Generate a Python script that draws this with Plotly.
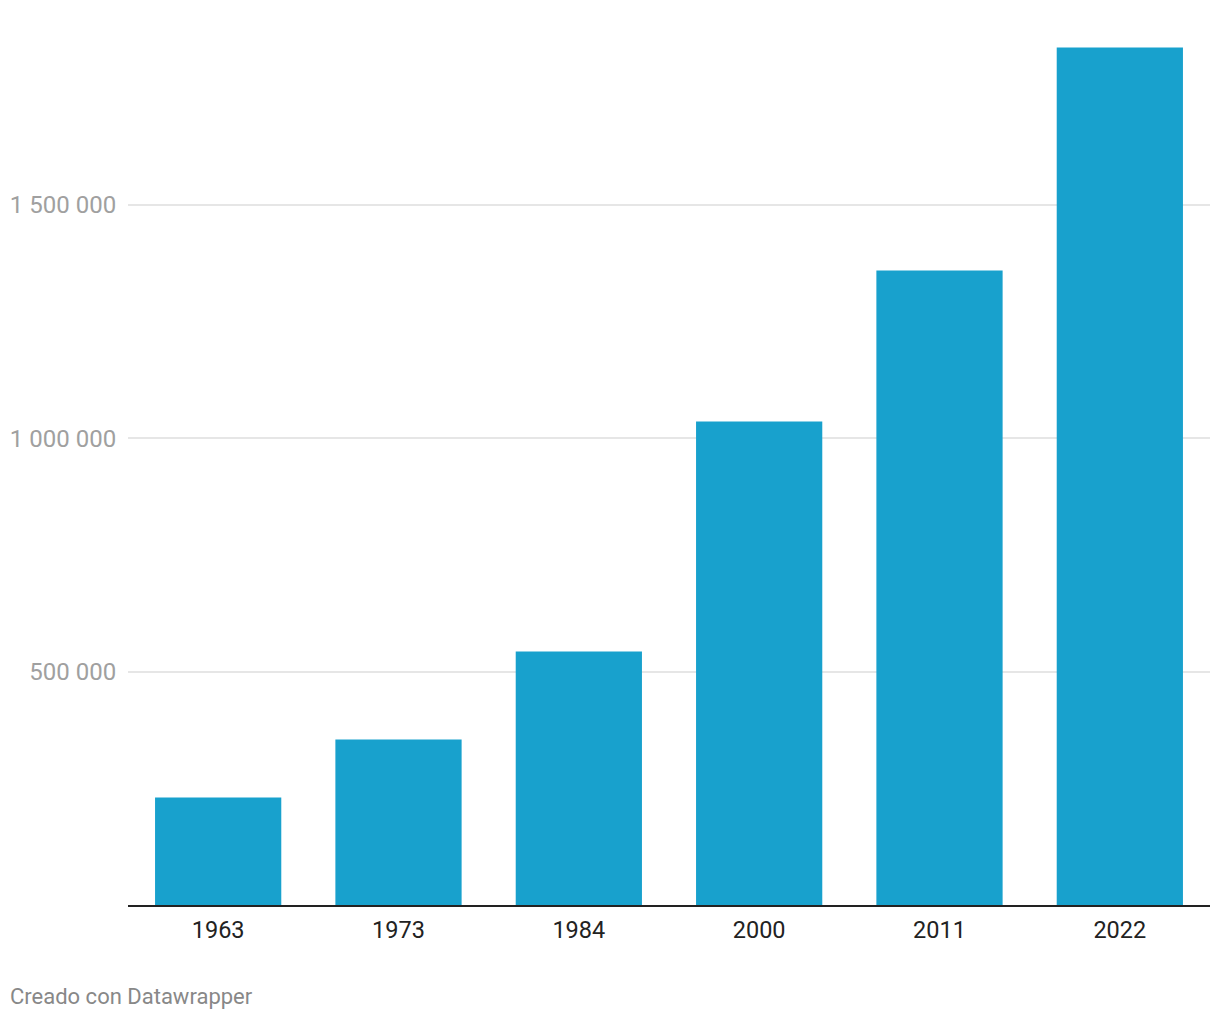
import plotly.graph_objects as go

years = ["1963", "1973", "1984", "2000", "2011", "2022"]
values = [230400, 354600, 543200, 1036000, 1359600, 1837500]
y_tickvals = [500000, 1000000, 1500000]
y_ticktext = ["500 000", "1 000 000", "1 500 000"]

# page has an 8px body margin, so the figure is offset by 8px
W, H = 1212, 1012
L, R, T, B = 120, 10, 12, 115
PW = W - L - R
PH = H - T - B

fig = go.Figure(
    go.Bar(
        x=years,
        y=values,
        marker=dict(color="#18a1cd", line=dict(width=0)),
        hoverinfo="x+y",
    )
)

fig.update_layout(
    width=W,
    height=H,
    margin=dict(l=L, r=R, t=T, b=B),
    paper_bgcolor="white",
    plot_bgcolor="white",
    bargap=0.3,
    showlegend=False,
    font=dict(family="Roboto", size=24, color="#333333"),
)

fig.update_xaxes(
    type="category",
    range=[-0.5, 5.5],
    automargin=False,
    showline=True,
    linecolor="#222222",
    linewidth=2,
    showgrid=False,
    ticks="outside",
    ticklen=3,
    tickcolor="rgba(0,0,0,0)",
    tickfont=dict(family="Roboto", size=23.5, color="#222222"),
)

fig.update_yaxes(
    range=[0, PH * 1e6 / 466.67],
    automargin=False,
    tickvals=y_tickvals,
    ticktext=y_ticktext,
    showgrid=True,
    gridcolor="#e6e6e6",
    gridwidth=2,
    zeroline=False,
    showline=False,
    ticks="outside",
    ticklen=6,
    tickcolor="rgba(0,0,0,0)",
    tickfont=dict(family="Roboto", size=24, color="#a0a0a0"),
)

fig.add_annotation(
    text="Creado con Datawrapper",
    xref="paper",
    yref="paper",
    x=(0 - L) / PW,
    y=-(988 - (H - B)) / PH,
    xanchor="left",
    yanchor="middle",
    showarrow=False,
    font=dict(family="Roboto", size=22, color="#888888"),
)

fig.write_html("out.html")
